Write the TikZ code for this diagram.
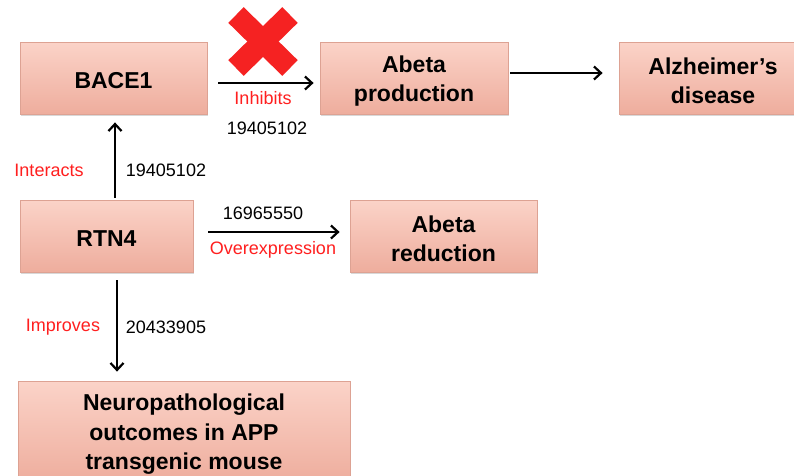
\documentclass[tikz,border=0pt]{standalone}
\usepackage{fontspec}
\setmainfont{Liberation Sans}
\usetikzlibrary{arrows.meta,shadows,calc}
\definecolor{boxtop}{HTML}{FBD3C8}
\definecolor{boxmid}{HTML}{F7BEAF}
\definecolor{boxbot}{HTML}{EEAD9D}
\definecolor{boxline}{HTML}{DDA293}
\definecolor{lblred}{HTML}{FF1F1F}
\definecolor{xred}{HTML}{F52222}
\tikzset{
  gbox/.style={rectangle, draw=boxline, line width=0.8pt,
    top color=boxtop, middle color=boxmid, bottom color=boxbot,
    drop shadow={opacity=0.3, shadow xshift=1.2pt, shadow yshift=-2.2pt}},
  boxtxt/.style={align=center, inner sep=0pt,
    font=\fontsize{23}{29.5}\selectfont\bfseries},
  arr/.style={line width=2.2pt, -{Straight Barb[length=7pt,width=13pt,line width=2.2pt]}},
  redlbl/.style={text=lblred, font=\fontsize{18}{21}\selectfont, inner sep=0pt},
  numlbl/.style={text=black, font=\fontsize{18}{21}\selectfont, inner sep=0pt},
}
\begin{document}
\begin{tikzpicture}[x=1pt,y=-1pt]
\clip (0,0) rectangle (794,475);
\fill[white] (0,0) rectangle (794,475);
% boxes
\node[gbox, minimum width=187pt, minimum height=72pt] (bace) at (113.5,78) {};
\node[gbox, minimum width=188pt, minimum height=72pt] (abp) at (414,78) {};
\node[gbox, minimum width=188pt, minimum height=72pt] (alz) at (713,78) {};
\node[gbox, minimum width=173pt, minimum height=72pt] (rtn) at (106.5,236) {};
\node[gbox, minimum width=187pt, minimum height=72pt] (abr) at (443.5,236) {};
\node[gbox, minimum width=332pt, minimum height=102pt] (neuro) at (184,432) {};
% box texts
\node[boxtxt] (bacet) at ([yshift=-2.5pt]bace.center) {BACE1};
\node[boxtxt] (abpt) at ([yshift=-3pt]abp.center) {Abeta\\production};
\node[boxtxt] (alzt) at ([yshift=-3pt]alz.center) {Alzheimer’s\\disease};
\node[boxtxt] (rtnt) at ([yshift=-2.5pt]rtn.center) {RTN4};
\node[boxtxt] (abrt) at ([yshift=-3pt]abr.center) {Abeta\\reduction};
\node[boxtxt] (neurot) at ([yshift=-2.5pt]neuro.center) {Neuropathological\\outcomes in APP\\transgenic mouse};
% helper coordinates
\coordinate (vx1) at (115,0);
\coordinate (vx2) at (117,0);
% connectors
\draw[arr] ([xshift=11pt,yshift=-5pt]bace.east) -- ([xshift=-6pt,yshift=-5pt]abp.west);
\draw[arr] ([xshift=2pt,yshift=5pt]abp.east) -- ([xshift=-16pt,yshift=5pt]alz.west);
\draw[arr] ([yshift=2pt]vx1 |- rtn.north) -- ([yshift=-8pt]vx1 |- bace.south);
\draw[arr] ([yshift=-8pt]vx2 |- rtn.south) -- ([yshift=9pt]vx2 |- neuro.north);
\draw[arr] ([xshift=15pt,yshift=4pt]rtn.east) -- ([xshift=-10pt,yshift=4pt]abr.west);
% red X
\draw[xred, line width=22pt, line cap=butt] (236,15) -- (290,68);
\draw[xred, line width=22pt, line cap=butt] (236,68) -- (290,15);
% labels
\node[redlbl] (l1) at (263,98) {Inhibits};
\node[numlbl] (n1) at (267,128) {19405102};
\node[redlbl] (l2) at (49,170) {Interacts};
\node[numlbl] (n2) at (166,170) {19405102};
\node[numlbl] (n3) at (263,213) {16965550};
\node[redlbl] (l3) at (273,250) {Overexpression};
\node[redlbl] (l4) at (63,327) {Improves};
\node[numlbl] (n4) at (166,327) {20433905};
\end{tikzpicture}
\end{document}
